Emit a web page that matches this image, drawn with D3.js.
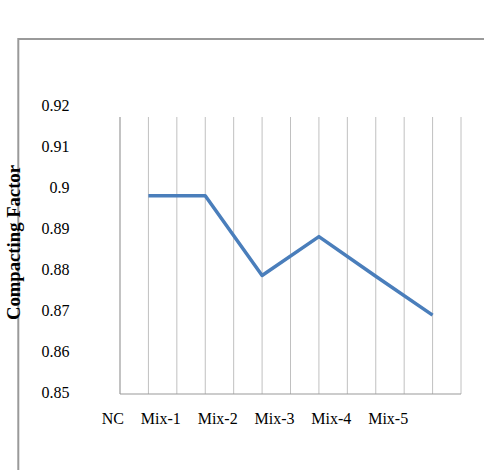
<!DOCTYPE html>
<html lang="en">
  <head>
    <meta charset="utf-8">
    <title>Compacting Factor</title>
    <style>
      body { margin: 0; background: white; }
      svg text { font-family: "Liberation Serif", "DejaVu Serif", serif; fill: #000; }
    </style>
    <script src="https://cdn.jsdelivr.net/npm/d3@7"></script>
  </head>
  <body>
    <svg id="chart" width="484" height="470"></svg>
    <script>
      // data
      var mixes = ["NC", "Mix-1", "Mix-2", "Mix-3", "Mix-4", "Mix-5"];
      var factor = [0.898, 0.898, 0.8785, 0.888, 0.8783, 0.8688];
      var yTicks = [0.85, 0.86, 0.87, 0.88, 0.89, 0.9, 0.91, 0.92];

      var svg = d3.select("#chart");
      var plotLeft = 120, plotRight = 461, plotBottom = 392, plotTop = 105.7, gridTop = 117;

      // outer frame (only top and left edges show)
      svg.append("path")
        .attr("d", "M18.3,470 V39 H484")
        .style("fill", "none").style("stroke", "#9a9a9a").style("stroke-width", 2);

      var x = d3.scaleBand().domain(mixes).range([plotLeft, plotRight]);
      var y = d3.scaleLinear().domain([0.85, 0.92]).range([plotBottom, plotTop]);

      // vertical grid: band edges and band centres
      var gx = [];
      mixes.forEach(function(m) { gx.push(x(m)); gx.push(x(m) + x.bandwidth() / 2); });
      gx.push(plotRight);
      svg.selectAll("line.grid").data(gx.slice(1)).enter().append("line")
        .attr("class", "grid")
        .attr("x1", function(d) { return d; }).attr("x2", function(d) { return d; })
        .attr("y1", gridTop).attr("y2", plotBottom + 2)
        .style("stroke", "#c0c0c0").style("stroke-width", 1);

      // axes lines
      svg.append("line").attr("x1", plotLeft).attr("x2", plotLeft).attr("y1", gridTop).attr("y2", plotBottom + 2)
        .style("stroke", "#9a9a9a").style("stroke-width", 1.2);
      svg.append("line").attr("x1", plotLeft).attr("x2", plotRight).attr("y1", plotBottom + 2).attr("y2", plotBottom + 2)
        .style("stroke", "#9a9a9a").style("stroke-width", 1.2);

      // y tick labels
      svg.selectAll("text.ytick").data(yTicks).enter().append("text")
        .attr("class", "ytick")
        .attr("x", 69.5).attr("y", function(d) { return y(d) + 5.5; })
        .attr("text-anchor", "end").style("font-size", "16px")
        .text(function(d) { return String(+d.toFixed(2)); });

      // x labels (sit right-aligned at the start of each band)
      svg.selectAll("text.xtick").data(mixes).enter().append("text")
        .attr("class", "xtick")
        .attr("x", function(d) { return x(d) + 4; }).attr("y", 424)
        .attr("text-anchor", "end").style("font-size", "16px")
        .text(function(d) { return d; });

      // axis title
      svg.append("text")
        .attr("transform", "translate(19.5,242.5) rotate(-90)")
        .attr("text-anchor", "middle")
        .attr("textLength", 155).attr("lengthAdjust", "spacingAndGlyphs")
        .style("font-size", "19px").style("font-weight", "bold")
        .text("Compacting Factor");

      // the series
      var line = d3.line()
        .x(function(d, i) { return x(mixes[i]) + x.bandwidth() / 2; })
        .y(function(d) { return y(d); });
      svg.append("path").datum(factor)
        .attr("d", line)
        .style("fill", "none").style("stroke", "#4a7ebb").style("stroke-width", 3.5)
        .style("stroke-linejoin", "round");
    </script>
  </body>
</html>
